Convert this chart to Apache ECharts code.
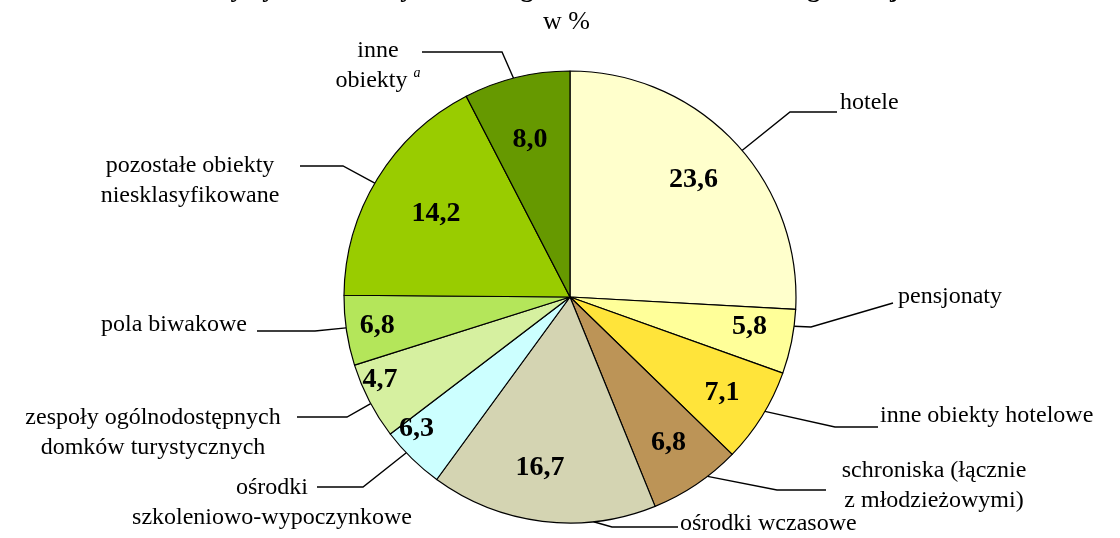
<!DOCTYPE html>
<html>
<head>
<meta charset="utf-8">
<script src="https://cdn.jsdelivr.net/npm/echarts@6/dist/echarts.min.js"></script>
<style>
html,body{margin:0;padding:0;background:#fff}
#main{width:1120px;height:538px}
</style>
</head>
<body>
<div id="main"></div>
<script>
// rodzaje obiektów - od godz. 12 zgodnie z ruchem wskazówek zegara
var categories = [
    'hotele',
    'pensjonaty',
    'inne obiekty hotelowe',
    'schroniska (łącznie\nz młodzieżowymi)',
    'ośrodki wczasowe',
    'ośrodki\nszkoleniowo-wypoczynkowe',
    'zespoły ogólnodostępnych\ndomków turystycznych',
    'pola biwakowe',
    'pozostałe obiekty\nniesklasyfikowane',
    'inne\nobiekty {sup|a}'
];
// wartości wypisane na wykresie (w %)
var labelValues = [23.6, 5.8, 7.1, 6.8, 16.7, 6.3, 4.7, 6.8, 14.2, 8.0];
// wielkości wycinków (w %) - rysunek nie zgadza się dokładnie z opisami
var sliceValues = [25.9, 4.6, 6.8, 6.6, 16.2, 4.6, 5.5, 5.0, 17.3, 7.6];
var colors = ['#FFFFCC', '#FFFF99', '#FFE43A', '#BC9457', '#D4D4B2',
              '#CCFFFF', '#D6F0A0', '#B4E65A', '#99CC00', '#669900'];

var FONT = '"Liberation Serif", "DejaVu Serif", serif';
var CX = 570, CY = 297, R = 226;

// kąty środków wycinków (stopnie, od góry zgodnie z zegarem)
var total = sliceValues.reduce(function (s, v) { return s + v; }, 0);
var midAngles = [];
var cum = 0;
for (var i = 0; i < sliceValues.length; i++) {
    midAngles.push((cum + sliceValues[i] / 2) / total * 360);
    cum += sliceValues[i];
}

// położenie opisów zewnętrznych i linii odniesienia
var outer = [
    {x: 840, y: 103, align: 'left',   da: 3,   bend: [790, 112], end: [837, 112]},
    {x: 898, y: 297, align: 'left',   da: -4,  bend: [811, 327], end: [893, 303]},
    {x: 880, y: 416, align: 'left',   da: -1.5, bend: [835, 427], end: [878, 427]},
    {x: 934, y: 486, align: 'center', da: -3.5, bend: [777, 490], end: [826, 490]},
    {x: 680, y: 524, align: 'left',   da: -13, bend: [612, 527], end: [678, 527]},
    {x: 272, y: 503, align: 'center', da: 2,   bend: [363, 487], end: [317, 487]},
    {x: 153, y: 433, align: 'center', da: -0.7, bend: [347, 417], end: [297, 417]},
    {x: 247, y: 325, align: 'right',  da: 0.7, bend: [315, 331], end: [257, 331]},
    {x: 190, y: 181, align: 'center', da: -1.3, bend: [343, 166], end: [300, 166]},
    {x: 378, y: 66,  align: 'center', da: -0.8, bend: [502, 52],  end: [422, 52]}
];
// położenie wartości wewnątrz wycinków (promień, przesunięcie kąta)
var inner = [
    {r: 170, da: 0}, {r: 182, da: -2}, {r: 180, da: 0.4}, {r: 176, da: 0}, {r: 173, da: 3},
    {r: 202, da: 5}, {r: 207, da: 4}, {r: 195, da: 0}, {r: 158, da: 0.4}, {r: 162, da: -0.6}
];

function pt(angle, r) {
    var a = angle * Math.PI / 180;
    return [CX + r * Math.sin(a), CY - r * Math.cos(a)];
}

var pieData = categories.map(function (c, i) {
    return {name: c, value: sliceValues[i], itemStyle: {color: colors[i]}};
});

var myChart = echarts.init(document.getElementById('main'));
myChart.setOption({
    animation: false,
    title: [
        {
            text: 'Turystyczne obiekty zbiorowego zakwaterowania według rodzajów',
            left: 'center', top: -23, padding: 0,
            textStyle: {fontFamily: FONT, fontSize: 26, fontWeight: 'bold', color: '#000'}
        },
        {
            text: 'w %',
            left: 543, top: 9, padding: 0,
            textStyle: {fontFamily: FONT, fontSize: 26, fontWeight: 'normal', color: '#000'}
        }
    ],
    series: [
        {
            type: 'pie',
            center: [CX, CY],
            radius: [0, R],
            startAngle: 90,
            clockwise: true,
            avoidLabelOverlap: false,
            silent: true,
            data: pieData,
            itemStyle: {borderColor: '#000', borderWidth: 1.2},
            label: {
                show: true,
                position: 'outside',
                overflow: 'none',
                fontFamily: FONT,
                fontSize: 24,
                lineHeight: 30,
                color: '#000',
                formatter: '{b}',
                rich: {
                    sup: {fontFamily: FONT, fontSize: 14, fontStyle: 'italic', verticalAlign: 'top', lineHeight: 30, color: '#000'}
                }
            },
            labelLine: {show: true, lineStyle: {color: '#000', width: 1.4}},
            labelLayout: function (p) {
                var c = outer[p.dataIndex];
                var start = pt(midAngles[p.dataIndex] + c.da, R);
                return {
                    x: c.x, y: c.y, align: c.align, verticalAlign: 'middle',
                    labelLinePoints: [start, c.bend, c.end]
                };
            }
        },
        {
            type: 'pie',
            center: [CX, CY],
            radius: [0, R],
            startAngle: 90,
            clockwise: true,
            silent: true,
            z: 5,
            data: sliceValues.map(function (v, i) { return {name: 'w' + i, value: v}; }),
            itemStyle: {color: 'rgba(0,0,0,0)', borderWidth: 0},
            label: {
                show: true,
                position: 'inside',
                fontFamily: FONT,
                fontSize: 28,
                fontWeight: 'bold',
                color: '#000',
                formatter: function (p) { return labelValues[p.dataIndex].toFixed(1).replace('.', ','); }
            },
            labelLine: {show: false},
            labelLayout: function (p) {
                var c = inner[p.dataIndex];
                var q = pt(midAngles[p.dataIndex] + c.da, c.r);
                return {x: q[0], y: q[1], align: 'center', verticalAlign: 'middle'};
            }
        }
    ]
});
</script>
</body>
</html>
